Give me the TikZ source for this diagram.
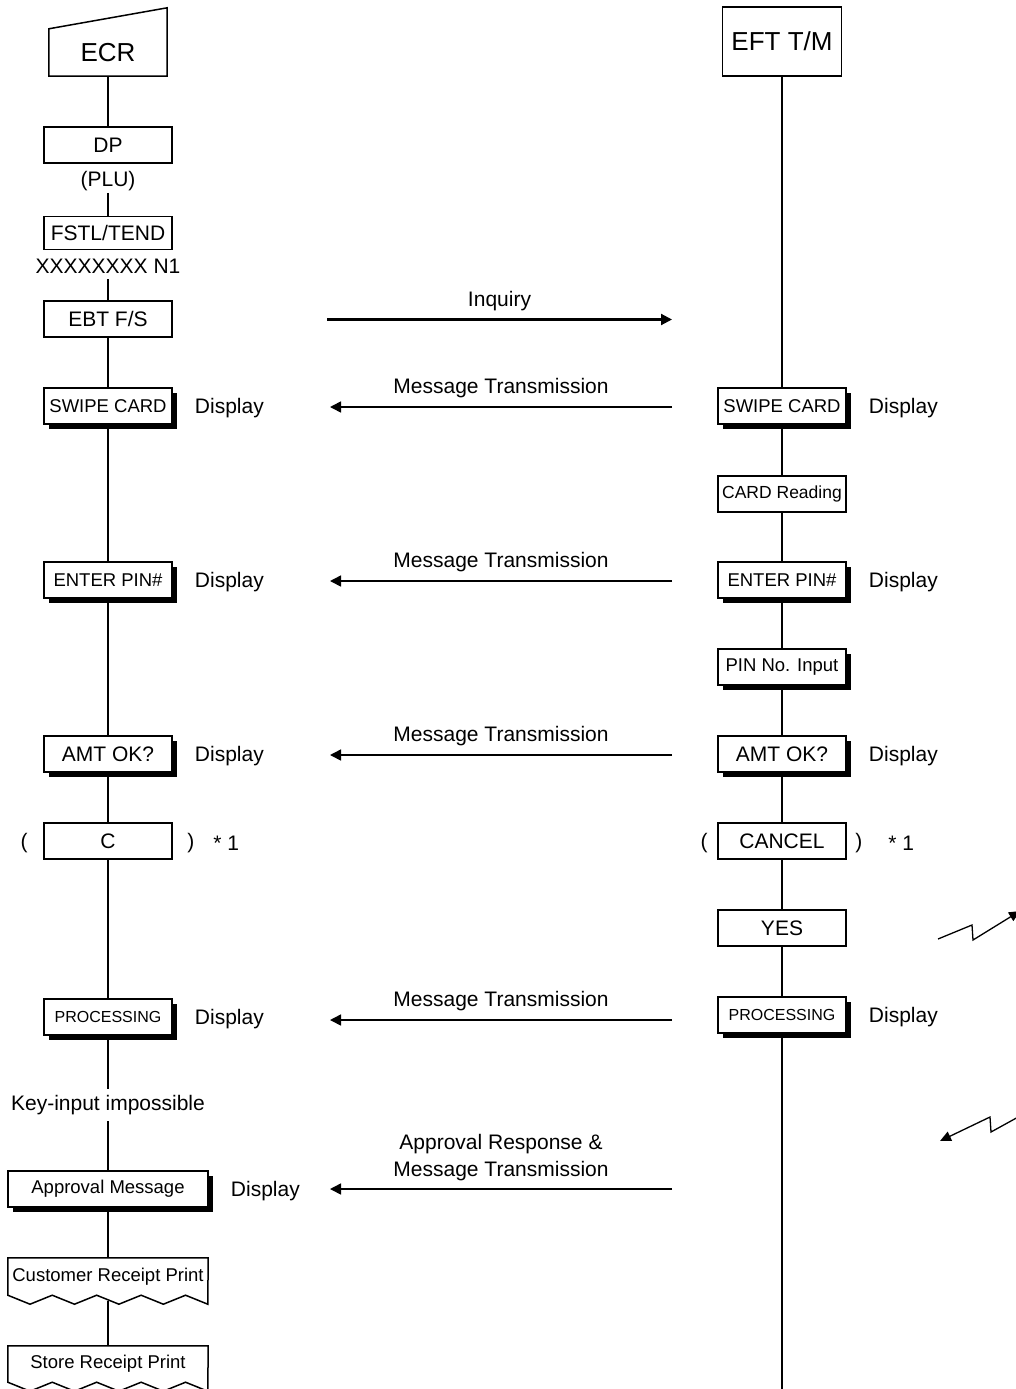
\documentclass[tikz,border=0pt]{standalone}
\usepackage{fontspec}
\setmainfont{Liberation Sans}
\usetikzlibrary{arrows.meta, positioning, shadows}

\newcommand{\fsz}[1]{\fontsize{#1}{\dimexpr #1pt*13/10\relax}\selectfont}

\begin{document}
\begin{tikzpicture}[
    x=1pt, y=-1pt,
    flow/.style={line width=2.8pt},
    box/.style={draw, line width=1.5pt, fill=white, minimum width=128pt,
        minimum height=36pt, inner sep=0pt, font=\fsz{21}},
    sbox/.style={box, drop shadow={shadow xshift=4.5pt, shadow yshift=-5pt,
        fill=black, opacity=1}},
    txt/.style={inner sep=2pt, font=\fsz{21}},
    disp/.style={txt, yshift=-2pt},
    lbl/.style={midway, above=6pt, inner sep=2pt, align=center,
        font=\fontsize{21}{27}\selectfont},
    msg/.style={line width=1.6pt, -{Triangle[length=11pt, width=11pt]}},
    bolt/.style={line width=1.3pt, -{Triangle[length=11pt, width=10pt]}},
    frame/.style={line width=1.5pt, line join=miter},
]
\useasboundingbox (0,0) rectangle (1016,1389);

% =============================================
% ECR side
% =============================================
\node[minimum width=118pt, minimum height=47pt, inner sep=0pt, font=\fsz{26}] (ecr) at (108,52.5) {ECR};
\draw[frame] (ecr.north west) -- (ecr.south west) -- (ecr.south east)
    -- ([yshift=21pt]ecr.north east) -- cycle;

\node[box] (dp) at (108,145) {DP};
\node[txt] (plu) at (108,181) {(PLU)};
\node[box, minimum height=33pt] (fstl) at (108,233) {FSTL/TEND};
\node[txt, inner ysep=6pt] (xx) at (108,266) {XXXXXXXX N1};
\node[box] (ebt) at (108,319) {EBT F/S};

\node[sbox, font=\fsz{18.5}] (swL) at (108,406) {SWIPE CARD};
\node[disp, right=20pt of swL] (dswL) {Display};
\node[sbox, font=\fsz{18.5}] (pinL) at (108,580) {ENTER PIN\#};
\node[disp, right=20pt of pinL] (dpinL) {Display};
\node[sbox] (amtL) at (108,754) {AMT OK?};
\node[disp, right=20pt of amtL] (damtL) {Display};

% clear key, optional
\node[box] (cL) at (108,841) {C};
\node[disp, left=13.5pt of cL] (cLo) {(};
\node[disp, right=12.5pt of cL] (cLc) {)};
\node[txt, right=14.5pt of cLc] (cLn) {* 1};

\node[sbox, font=\fsz{16}] (procL) at (108,1017) {PROCESSING};
\node[disp, right=20pt of procL] (dprocL) {Display};
\node[txt, inner ysep=6pt] (key) at (108,1105) {Key-input impossible};
\node[sbox, minimum width=200pt, font=\fsz{18.5}] (appr) at (108,1189) {Approval Message};
\node[disp, right=20pt of appr] (dappr) {Display};

% receipts with torn bottom edge
\node[minimum width=200pt, minimum height=37pt, inner sep=0pt, font=\fsz{18.5}] (cust) at (108,1276.5) {Customer Receipt Print};
\draw[frame] (cust.south west) \foreach \k in {1,...,4}{ -- ++(22.22,9) -- ++(22.22,-9)}
    -- ++(22.22,9) -- (cust.north east) -- (cust.north west) -- cycle;
\node[minimum width=200pt, minimum height=36pt, inner sep=0pt, font=\fsz{18.5}] (store) at (108,1364) {Store Receipt Print};
\draw[frame] (store.south west) \foreach \k in {1,...,4}{ -- ++(22.22,9) -- ++(22.22,-9)}
    -- ++(22.22,9) -- (store.north east) -- (store.north west) -- cycle;

% left flow line
\draw[flow] (ecr) -- (dp);
\draw[flow] (plu) -- (fstl);
\draw[flow] (xx) -- (ebt);
\draw[flow] (ebt) -- (swL);
\draw[flow] (swL) -- (pinL);
\draw[flow] (pinL) -- (amtL);
\draw[flow] (amtL) -- (cL);
\draw[flow] (cL) -- (procL);
\draw[flow] (procL) -- (key);
\draw[flow] (key) -- (appr);
\draw[flow] (appr) -- (cust);
\draw[flow] ([yshift=-6pt]cust.south) -- (store);

% =============================================
% EFT terminal side
% =============================================
\node[box, minimum width=119pt, minimum height=69pt, font=\fsz{26}] (eft) at (782,41.5) {EFT T/M};

\node[sbox, font=\fsz{18.5}] (swR) at (782,406) {SWIPE CARD};
\node[disp, right=20pt of swR] (dswR) {Display};
\node[box, font=\fsz{17.5}] (crd) at (782,494) {CARD Reading};
\node[sbox, font=\fsz{18.5}] (pinR) at (782,580) {ENTER PIN\#};
\node[disp, right=20pt of pinR] (dpinR) {Display};
\node[sbox, font=\fsz{18.5}] (pinin) at (782,667) {PIN No. Input};
\node[sbox] (amtR) at (782,754) {AMT OK?};
\node[disp, right=20pt of amtR] (damtR) {Display};

\node[box] (cancel) at (782,841) {CANCEL};
\node[disp, left=7.5pt of cancel] (cRo) {(};
\node[disp, right=6.5pt of cancel] (cRc) {)};
\node[txt, right=21.5pt of cRc] (cRn) {* 1};

\node[box] (yes) at (782,928) {YES};
\node[sbox, font=\fsz{16}] (procR) at (782,1015) {PROCESSING};
\node[disp, right=20pt of procR] (dprocR) {Display};
\coordinate (endR) at (782,1395);

% right flow line
\draw[flow] (eft) -- (swR);
\draw[flow] (swR) -- (crd);
\draw[flow] (crd) -- (pinR);
\draw[flow] (pinR) -- (pinin);
\draw[flow] (pinin) -- (amtR);
\draw[flow] (amtR) -- (cancel);
\draw[flow] (cancel) -- (yes);
\draw[flow] (yes) -- (procR);
\draw[flow] (procR) -- (endR);

% =============================================
% Messages between ECR and terminal
% =============================================
\coordinate (inqL) at (327,319.5);
\coordinate (inqR) at (672,319.5);
\draw[msg, line width=2.1pt] (inqL) -- node[lbl] {Inquiry} (inqR);

\foreach \y/\n in {407/1, 581/2, 755/3, 1020/4} {
  \coordinate (mR\n) at (672,\y);
  \coordinate (mL\n) at (330,\y);
  \draw[msg] (mR\n) -- node[lbl] {Message Transmission} (mL\n);
}

\coordinate (apR) at (672,1189);
\coordinate (apL) at (330,1189);
\draw[msg] (apR) -- node[lbl, above=5pt] {Approval Response \&\\Message Transmission} (apL);

% host link (lightning)
\coordinate (upS) at (938,939);
\draw[bolt] (upS) -- (972,925) -- (973,940) -- (1020,911);
\coordinate (dnS) at (1020,1116);
\draw[bolt] (dnS) -- (991,1132) -- (990,1117) -- (940,1141);

\end{tikzpicture}
\end{document}
